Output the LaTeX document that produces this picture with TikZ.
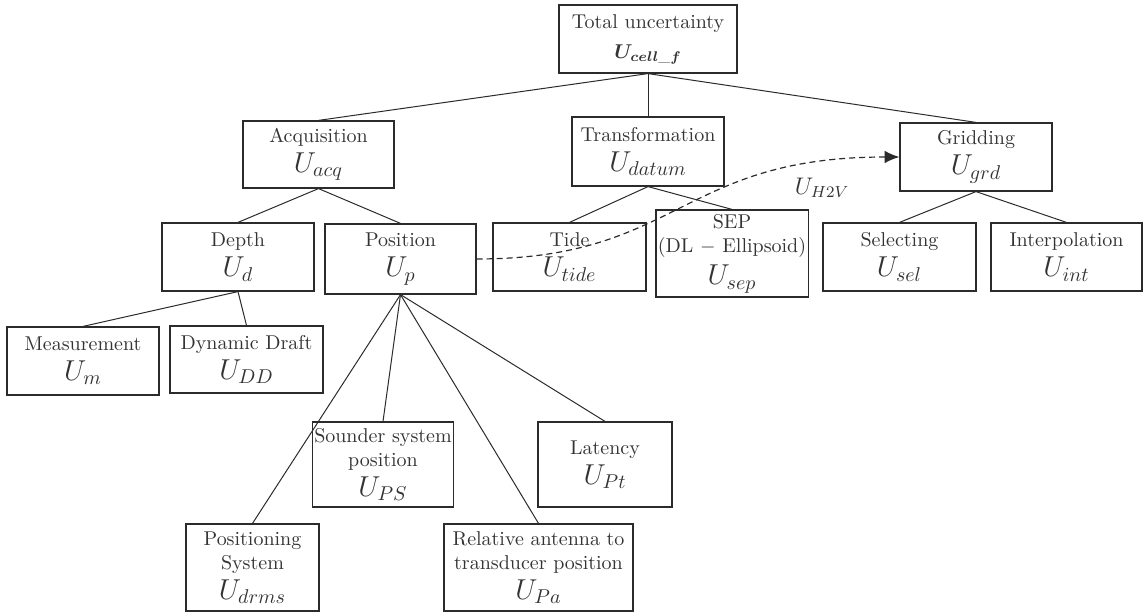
\documentclass[tikz,border=0pt]{standalone}
\usepackage{amsmath}
\usetikzlibrary{arrows.meta}
\definecolor{cline}{HTML}{2B2B2B}
\definecolor{ctext}{HTML}{333333}
\newcommand{\uterm}[1]{{\Large$U_{#1}$}}
\tikzset{
  every picture/.style={line width=0.6pt},
  box/.style={draw=cline, text=ctext, align=center, inner sep=1pt},
  link/.style={draw=cline, line width=0.5pt},
  flow/.style={-{Latex[length=2.6mm, width=2.2mm]}, draw=cline, line width=0.6pt, dash pattern=on 3pt off 2pt},
}
\begin{document}
\begin{tikzpicture}[x=0.5pt, y=-0.5pt,
  b/.style 2 args={box, minimum width=#1*0.5pt, minimum height=#2*0.5pt}]
  \useasboundingbox (0,0) rectangle (1144,613);
  \node[b={178}{68}] (tot) at (648,39) {Total uncertainty\\[3pt] $\boldsymbol{U_{cell\_f}}$};
  \node[b={151}{67}] (acq) at (318.5,154.5) {Acquisition\\[3pt] \uterm{acq}};
  \node[b={152}{69}] (dat) at (648,151.5) {Transformation\\[3pt] \uterm{datum}};
  \node[b={152}{68}] (grd) at (976,157) {Gridding\\[3pt] \uterm{grd}};
  \node[b={152}{68}] (dep) at (238,257) {Depth\\[3pt] \uterm{d}};
  \node[b={151}{70}] (pos) at (400.5,259) {Position\\[3pt] \uterm{p}};
  \node[b={153}{68}] (tid) at (569.5,257) {Tide\\[3pt] \uterm{tide}};
  \node[b={150}{87}] (sep) at (732,253.5) {SEP\\ (DL $-$ Ellipsoid)\\[3pt] \uterm{sep}};
  \node[b={153}{68}] (sel) at (899.5,257) {Selecting\\[3pt] \uterm{sel}};
  \node[b={151}{68}] (int) at (1066.5,257) {Interpolation\\[3pt] \uterm{int}};
  \node[b={152}{68}] (mea) at (83,361) {Measurement\\[3pt] \uterm{m}};
  \node[b={153}{67}] (dd) at (246.5,359.5) {Dynamic Draft\\[3pt] \uterm{DD}};
  \node[b={132}{85}] (snd) at (383,464.5) {Sounder system\\ position\\[3pt] \uterm{PS}};
  \node[b={134}{85}] (lat) at (605,464.5) {Latency\\[3pt] \uterm{Pt}};
  \node[b={133}{87}] (psy) at (252.5,567.5) {Positioning\\ System\\[3pt] \uterm{drms}};
  \node[b={189}{87}] (rel) at (538.5,567.5) {Relative antenna to\\ transducer position\\[3pt] \uterm{Pa}};
  \node[text=ctext, font=\large] (h2v) at (822,188) {$U_{H2V}$};
  \draw[link] (tot.south) -- (acq.north); \draw[link] (tot.south) -- (dat.north); \draw[link] (tot.south) -- (grd.north);
  \draw[link] (acq.south) -- (dep.north); \draw[link] (acq.south) -- (pos.north);
  \draw[link] (dat.south) -- (tid.north); \draw[link] (dat.south) -- (sep.north);
  \draw[link] (grd.south) -- (sel.north); \draw[link] (grd.south) -- (int.north);
  \draw[link] (dep.south) -- (mea.north); \draw[link] (dep.south) -- (dd.north);
  \draw[link] (pos.south) -- (psy.north); \draw[link] (pos.south) -- (snd.north);
  \draw[link] (pos.south) -- (rel.north); \draw[link] (pos.south) -- (lat.north);
  \draw[flow] (pos.east) .. controls +(0:203) and +(180:220) .. (grd.west);
\end{tikzpicture}
\end{document}
